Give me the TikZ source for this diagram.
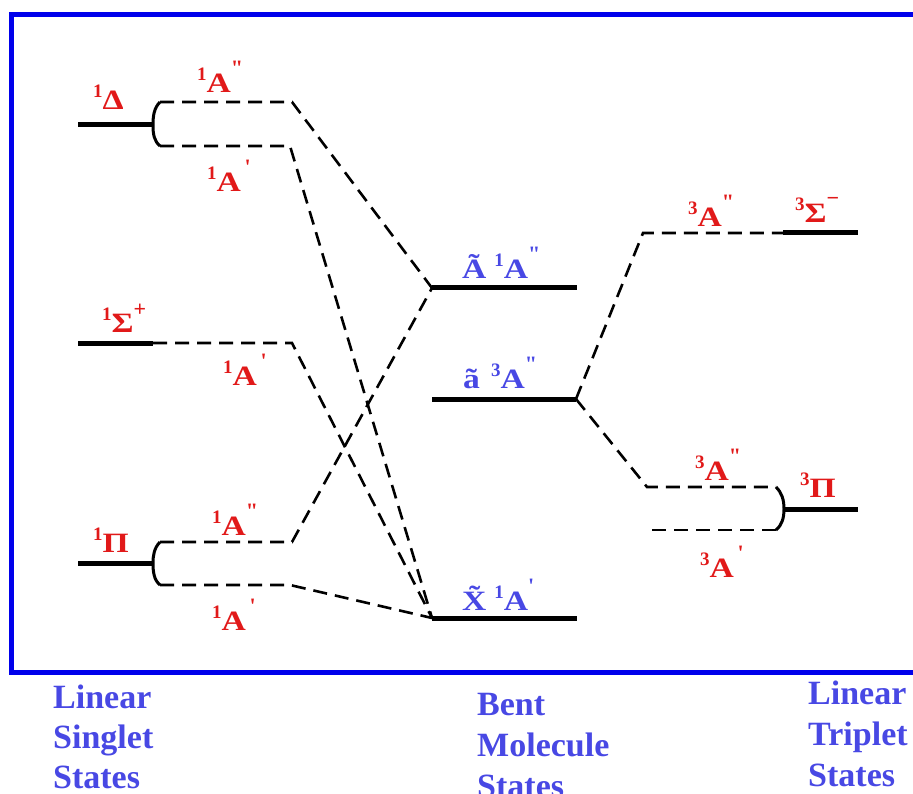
\documentclass[tikz,border=0pt]{standalone}
\usepackage{fontspec}
\newfontfamily\tnr{Liberation Serif}
\definecolor{lred}{RGB}{225,25,25}
\definecolor{lblue}{RGB}{72,72,228}
\definecolor{fblue}{RGB}{0,0,235}
\newcommand\sx[1]{\scalebox{1.2}[1]{#1}}
\newcommand\lbl[3]{\raisebox{12pt}{\fontsize{19}{19}\selectfont #1}\sx{#2}\raisebox{17pt}{\fontsize{22}{22}\selectfont #3}}
\newcommand\lblb[2]{\raisebox{12pt}{\fontsize{19}{19}\selectfont #1}\sx{#2}}
\tikzset{
  level/.style={line width=5pt},
  conn/.style={line width=2.6pt, dash pattern=on 14pt off 8pt},
  brk/.style={line width=3pt},
  rlab/.style={font=\tnr\bfseries\fontsize{28}{28}\selectfont, text=lred, inner sep=0pt, anchor=base west},
  blab/.style={rlab, text=lblue},
  foot/.style={font=\tnr\bfseries\fontsize{34}{41}\selectfont, text=lblue, inner sep=0pt, anchor=base west}
}
\begin{document}
\begin{tikzpicture}[x=1pt,y=-1pt]
\useasboundingbox (0,0) rectangle (913,794);
% frame
\coordinate (fTR) at (920,14.5);
\coordinate (fTL) at (11.5,14.5);
\coordinate (fBL) at (11.5,672.5);
\coordinate (fBR) at (920,672.5);
\draw[fblue, line width=5.5pt] (fTR) -- (fTL) -- (fBL) -- (fBR);
% coordinates
\coordinate (dL) at (78,125); \coordinate (dR) at (153,125);
\coordinate (dUa) at (160,102); \coordinate (dUb) at (292,102);
\coordinate (dLa) at (160,146); \coordinate (dLb) at (290,146);
\coordinate (sL) at (78,343); \coordinate (sR) at (153,343); \coordinate (sB) at (292,343);
\coordinate (pL) at (78,563); \coordinate (pR) at (153,563);
\coordinate (pUa) at (160,542); \coordinate (pUb) at (292,542);
\coordinate (pLa) at (160,585); \coordinate (pLb) at (290,585);
\coordinate (AL) at (432,288); \coordinate (AR) at (577,288);
\coordinate (aL) at (432,399); \coordinate (aR) at (576,399);
\coordinate (XL) at (432,618); \coordinate (XR) at (577,618);
\coordinate (tUa) at (643,233); \coordinate (tUb) at (783,233); \coordinate (SmR) at (858,233);
\coordinate (tMa) at (647,487); \coordinate (tMb) at (776,487);
\coordinate (tLa) at (652,530); \coordinate (tLb) at (776,530);
\coordinate (PiL) at (784,509); \coordinate (PiR) at (858,509);
% levels
\draw[level] (dL) -- (dR);
\draw[level] (sL) -- (sR);
\draw[level] (pL) -- (pR);
\draw[level] (AL) -- (AR);
\draw[level] (aL) -- (aR);
\draw[level] (XL) -- (XR);
\draw[level] (tUb) -- (SmR);
\draw[level] (PiL) -- (PiR);
% brackets
\draw[brk] (dUa) .. controls (154,108) and (153,116) .. (dR) .. controls (153,134) and (154,141) .. (dLa);
\draw[brk] (pUa) .. controls (154,548) and (153,556) .. (pR) .. controls (153,572) and (154,580) .. (pLa);
\draw[brk] (tMb) .. controls (782,493) and (784,500) .. (PiL) .. controls (784,518) and (782,525) .. (tLb);
% connectors
\draw[conn] (dUa) -- (dUb) -- (AL);
\draw[conn] (dLa) -- (dLb) -- (XL);
\draw[conn] (sR) -- (sB) -- (XL);
\draw[conn] (pUa) -- (pUb) -- (AL);
\draw[conn] (pLa) -- (pLb) -- (XL);
\draw[conn] (aR) -- (tUa) -- (tUb);
\draw[conn] (aR) -- (tMa) -- (tMb);
\draw[conn] (tLa) -- (tLb);
% labels
\node[rlab] (lDelta) at (93,110) {\lblb{1}{Δ}};
\node[rlab] (lDAu) at (197,93) {\lbl{1}{A}{"}};
\node[rlab] (lDAl) at (207,192) {\lbl{1}{A}{\,'}};
\node[rlab] (lSig) at (102,333) {\lbl{1}{Σ}{+}};
\node[rlab] (lSA) at (223,385) {\lbl{1}{A}{\,'}};
\node[rlab] (lPi) at (93,552) {\lblb{1}{Π}};
\node[rlab] (lPAu) at (212,535) {\lbl{1}{A}{"}};
\node[rlab] (lPAl) at (212,630) {\lbl{1}{A}{\,'}};
\node[blab] (lAt) at (462,279) {\sx{Ã}\hspace{8pt}\lbl{1}{A}{"}};
\node[blab] (lat) at (463,388) {\sx{ã}\hspace{11pt}\lbl{3}{A}{"}};
\node[blab] (lXt) at (462,610) {\sx{X̃}\hspace{8pt}\lbl{1}{A}{'}};
\node[rlab] (tA1) at (688,227) {\lbl{3}{A}{"}};
\node[rlab] (tSig) at (795,223) {\lbl{3}{Σ}{−}};
\node[rlab] (tA2) at (695,480) {\lbl{3}{A}{"}};
\node[rlab] (tPi) at (800,497) {\lblb{3}{Π}};
\node[rlab] (tA3) at (700,577) {\lbl{3}{A}{\,'}};
% footer
\node[foot] (f1a) at (53,708) {Linear};
\node[foot] (f1b) at (53,748) {Singlet};
\node[foot] (f1c) at (53,788) {States};
\node[foot] (f2a) at (477,715) {Bent};
\node[foot] (f2b) at (477,756) {Molecule};
\node[foot] (f2c) at (477,797) {States};
\node[foot] (f3a) at (808,704) {Linear};
\node[foot] (f3b) at (808,745) {Triplet};
\node[foot] (f3c) at (808,786) {States};
\end{tikzpicture}
\end{document}
